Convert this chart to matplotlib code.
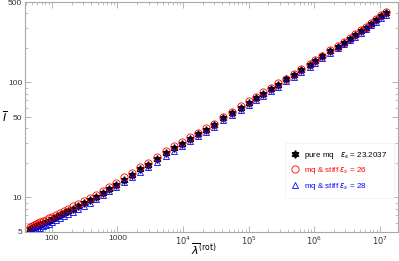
import matplotlib
matplotlib.use("Agg")
import matplotlib.pyplot as plt
from matplotlib.ticker import FixedLocator, FixedFormatter, NullFormatter

# rotational parameter (x) shared by all three series
lam = [46.4, 49.8, 53.4, 57.2, 61.4, 65.8, 73.1, 81.1, 90.1, 100,
       115, 132, 152, 175, 208, 248, 305, 377, 464, 593,
       757, 966, 1277, 1688, 2231, 2949, 4037, 5526, 7305, 9656,
       12765, 16880, 22310, 29490, 40360, 55210, 75680, 1.0e5, 1.276e5, 1.687e5,
       2.228e5, 2.851e5, 3.767e5, 4.977e5, 6.353e5, 8.689e5, 1.035e6, 1.321e6, 1.746e6, 2.312e6,
       2.851e6, 3.508e6, 4.178e6, 5.152e6, 6.138e6, 7.311e6, 8.690e6, 1.035e7, 1.233e7]

# pure mq, eps_s = 23.2037
I_pure = [5.31, 5.41, 5.50, 5.60, 5.70, 5.79, 5.95, 6.11, 6.27, 6.44,
          6.70, 6.98, 7.27, 7.56, 7.96, 8.37, 8.89, 9.45, 10.1, 11.0,
          11.9, 12.9, 14.3, 15.8, 17.5, 19.3, 21.6, 24.2, 26.7, 29.3,
          32.2, 35.3, 38.8, 42.5, 49.0, 54.2, 60.0, 66.3, 72.5, 80.0,
          87.5, 95.5, 106, 116.5, 127, 141, 152, 168, 186, 205,
          222, 240, 257, 279, 300, 324, 348, 376, 402]

# mq & stiff, eps_s = 26
I_26 = [5.58, 5.68, 5.78, 5.88, 5.99, 6.08, 6.25, 6.42, 6.58, 6.76,
        7.04, 7.33, 7.63, 7.94, 8.36, 8.79, 9.33, 9.83, 10.5, 11.4,
        12.4, 13.4, 14.9, 16.4, 18.2, 20.1, 22.5, 25.2, 27.8, 30.2,
        33.2, 36.4, 40.0, 43.8, 50.5, 55.8, 61.8, 68.3, 74.7, 82.4,
        90.1, 98.4, 108, 119, 130, 144, 155, 171, 190, 209,
        226, 245, 262, 285, 306, 330, 355, 384, 410]

# mq & stiff, eps_s = 28
I_28 = [4.99, 5.09, 5.17, 5.26, 5.36, 5.44, 5.59, 5.74, 5.89, 6.05,
        6.30, 6.56, 6.83, 7.11, 7.48, 7.87, 8.36, 8.98, 9.60, 10.5,
        11.3, 12.3, 13.6, 15.0, 16.6, 18.3, 20.5, 23.0, 25.4, 28.1,
        30.9, 33.9, 37.2, 40.8, 47.0, 52.0, 57.6, 63.6, 69.6, 76.8,
        84.0, 91.7, 102, 112, 123, 136, 147, 162, 179, 198,
        214, 232, 248, 269, 290, 313, 336, 363, 388]

x_ticks = [100, 1000, 1e4, 1e5, 1e6, 1e7]
x_labels = ['100', '1000', r'$10^4$', r'$10^5$', r'$10^6$', r'$10^7$']
y_ticks = [5, 10, 50, 100, 500]
y_labels = ['5', '10', '50', '100', '500']

plt.rcParams['font.family'] = ['Liberation Sans', 'DejaVu Sans']
plt.rcParams['mathtext.fontset'] = 'dejavusans'

fig = plt.figure(figsize=(3.99, 2.61), dpi=100)
ax = fig.add_axes([25/399, 29/261, 373/399, 230/261])

ax.plot(lam, I_pure, ls='none', marker=(6, 1, 0), ms=5.5, color='black',
        label=r'pure mq   $\epsilon_s$ = 23.2037')
ax.plot(lam, I_26, ls='none', marker='o', ms=5.2, mfc='none', color='red', mew=0.6,
        label=r'mq & stiff $\epsilon_s$ = 26')
ax.plot(lam, I_28, ls='none', marker='^', ms=4.3, mfc='none', color='blue', mew=0.6,
        label=r'mq & stiff $\epsilon_s$ = 28')

ax.set_xscale('log')
ax.set_yscale('log')
ax.set_xlim(39, 1.9e7)
ax.set_ylim(5, 500)

ax.xaxis.set_major_locator(FixedLocator(x_ticks))
ax.xaxis.set_major_formatter(FixedFormatter(x_labels))
ax.xaxis.set_minor_formatter(NullFormatter())
ax.yaxis.set_major_locator(FixedLocator(y_ticks))
ax.yaxis.set_major_formatter(FixedFormatter(y_labels))
ax.yaxis.set_minor_formatter(NullFormatter())

for s in ax.spines.values():
    s.set_color('#a8a8a8')
    s.set_linewidth(0.8)
ax.tick_params(which='both', direction='in', top=True, right=True,
               color='#a8a8a8', labelsize=6, labelcolor='#333333', pad=2)
ax.tick_params(which='major', length=4, width=0.6)
ax.tick_params(which='minor', length=2, width=0.5)

ax.text(-0.055, 0.5, r'$\overline{I}$', transform=ax.transAxes,
        fontsize=8, ha='center', va='center')
ax.text(0.48, -0.075, r'$\overline{\lambda}^{(\mathrm{rot})}$', transform=ax.transAxes,
        fontsize=8, ha='center', va='center')

leg = ax.legend(loc='lower right', bbox_to_anchor=(1.0, 0.13), fontsize=5.8,
                labelcolor='linecolor', frameon=True, fancybox=False,
                handlelength=0.8, handletextpad=0.8, borderpad=0.8, labelspacing=0.55)
leg.get_frame().set_edgecolor('#eeeeee')
leg.get_frame().set_linewidth(0.6)

fig.savefig('out.png', dpi=100)
